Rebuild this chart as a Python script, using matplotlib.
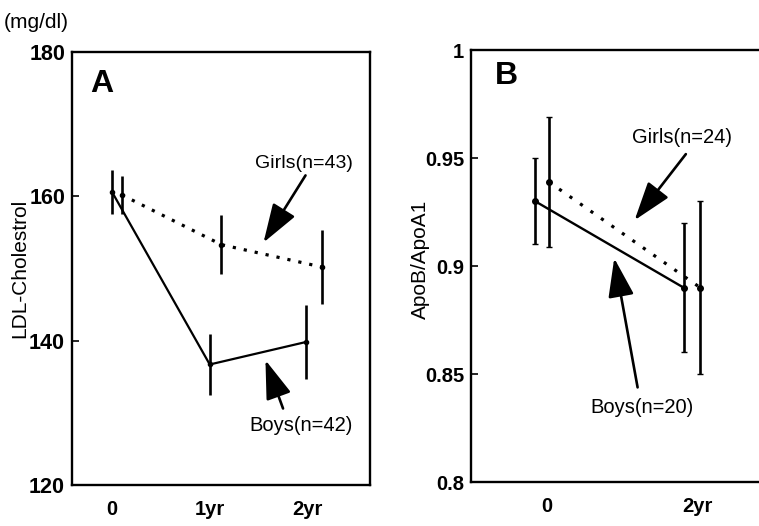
import matplotlib
matplotlib.use("Agg")
import matplotlib.pyplot as plt

plt.rcParams['font.family'] = ['Liberation Sans', 'DejaVu Sans']

# Panel A: LDL-Cholesterol
a_ticks = ["0", "1yr", "2yr"]
a_boys = [160.6, 136.7, 139.8]
a_boys_err = [3.1, 4.2, 5.1]
a_girls = [160.2, 153.3, 150.2]
a_girls_err = [2.6, 4.1, 5.1]

# Panel B: ApoB/ApoA1
b_ticks = ["0", "2yr"]
b_boys = [0.930, 0.890]
b_boys_err = [0.020, 0.030]
b_girls = [0.939, 0.890]
b_girls_err = [0.030, 0.040]

W, H = 759, 526
fig = plt.figure(figsize=(W / 100, H / 100), dpi=100)

def rect(l, t, r, b):
    return [l / W, 1 - b / H, (r - l) / W, (b - t) / H]

axA = fig.add_axes(rect(72, 52, 370, 485))
axB = fig.add_axes(rect(471, 50, 765, 482))

# ---- Panel A ----
xa = [0, 1, 2]
xa_b = [0.0, 1.0, 1.98]
xa_g = [0.10, 1.12, 2.15]
axA.errorbar(xa_b, a_boys, yerr=a_boys_err, color='black', lw=1.6, elinewidth=1.9,
             capsize=0, marker='o', ms=3)
axA.errorbar(xa_g, a_girls, yerr=a_girls_err, color='black', lw=2.3, elinewidth=1.9,
             capsize=0, marker='o', ms=3, ls=(0, (1, 2.5)))
axA.set_xlim(-0.41, 2.64)
axA.set_ylim(120, 180)
axA.set_yticks([120, 140, 160, 180])
axA.set_xticks(xa)
axA.set_xticklabels(a_ticks)
axA.text(0.06, 0.96, "A", transform=axA.transAxes, fontsize=23, fontweight='bold',
         va='top', ha='left')
axA.text(1.96, 164.6, "Girls(n=43)", fontsize=14, ha='center', va='center')
axA.text(1.93, 128.3, "Boys(n=42)", fontsize=14.5, ha='center', va='center')
ap = dict(arrowstyle='-|>,head_length=1.2,head_width=0.4', color='black', lw=1.9,
          mutation_scale=20, shrinkA=0, shrinkB=0)
axA.annotate("", xy=(1.55, 153.6), xytext=(1.98, 162.9), arrowprops=ap)
axA.annotate("", xy=(1.57, 137.3), xytext=(1.75, 130.6), arrowprops=ap)

# ---- Panel B ----
xb = [0, 2]
xb_b = [-0.15, 1.82]
xb_g = [0.03, 2.04]
axB.errorbar(xb_b, b_boys, yerr=b_boys_err, color='black', lw=1.7, elinewidth=1.9,
             capsize=2, marker='o', ms=4)
axB.errorbar(xb_g, b_girls, yerr=b_girls_err, color='black', lw=2.3, elinewidth=1.9,
             capsize=2, marker='o', ms=4, ls=(0, (1, 3)))
axB.set_xlim(-1.0, 2.9)
axB.set_ylim(0.8, 1.0)
axB.set_yticks([0.8, 0.85, 0.9, 0.95, 1.0])
axB.set_yticklabels(["0.8", "0.85", "0.9", "0.95", "1"])
axB.set_xticks(xb)
axB.set_xticklabels(b_ticks)
axB.text(0.08, 0.975, "B", transform=axB.transAxes, fontsize=23, fontweight='bold',
         va='top', ha='left')
axB.text(1.80, 0.9597, "Girls(n=24)", fontsize=14.5, ha='center', va='center')
axB.text(1.27, 0.8346, "Boys(n=20)", fontsize=14.5, ha='center', va='center')
axB.annotate("", xy=(1.17, 0.9212), xytext=(1.85, 0.9518), arrowprops=ap)
axB.annotate("", xy=(0.90, 0.9036), xytext=(1.21, 0.8438), arrowprops=ap)

for ax, ysz in ((axA, 15.5), (axB, 14.5)):
    for s in ax.spines.values():
        s.set_linewidth(1.7)
    ax.tick_params(axis='y', direction='in', length=5, width=1.2, labelsize=ysz, pad=5)
    ax.tick_params(axis='x', length=0, labelsize=14.5, pad=11)
    for lbl in ax.get_xticklabels() + ax.get_yticklabels():
        lbl.set_fontweight('bold')

fig.text(20 / W, 1 - 268 / H, "LDL-Cholestrol", fontsize=15, rotation=90,
         ha='center', va='center')
fig.text(420 / W, 1 - 259 / H, "ApoB/ApoA1", fontsize=15, rotation=90,
         ha='center', va='center')
fig.text(4 / W, 1 - 22 / H, "(mg/dl)", fontsize=15, ha='left', va='center')

fig.savefig("out.png", dpi=100)
